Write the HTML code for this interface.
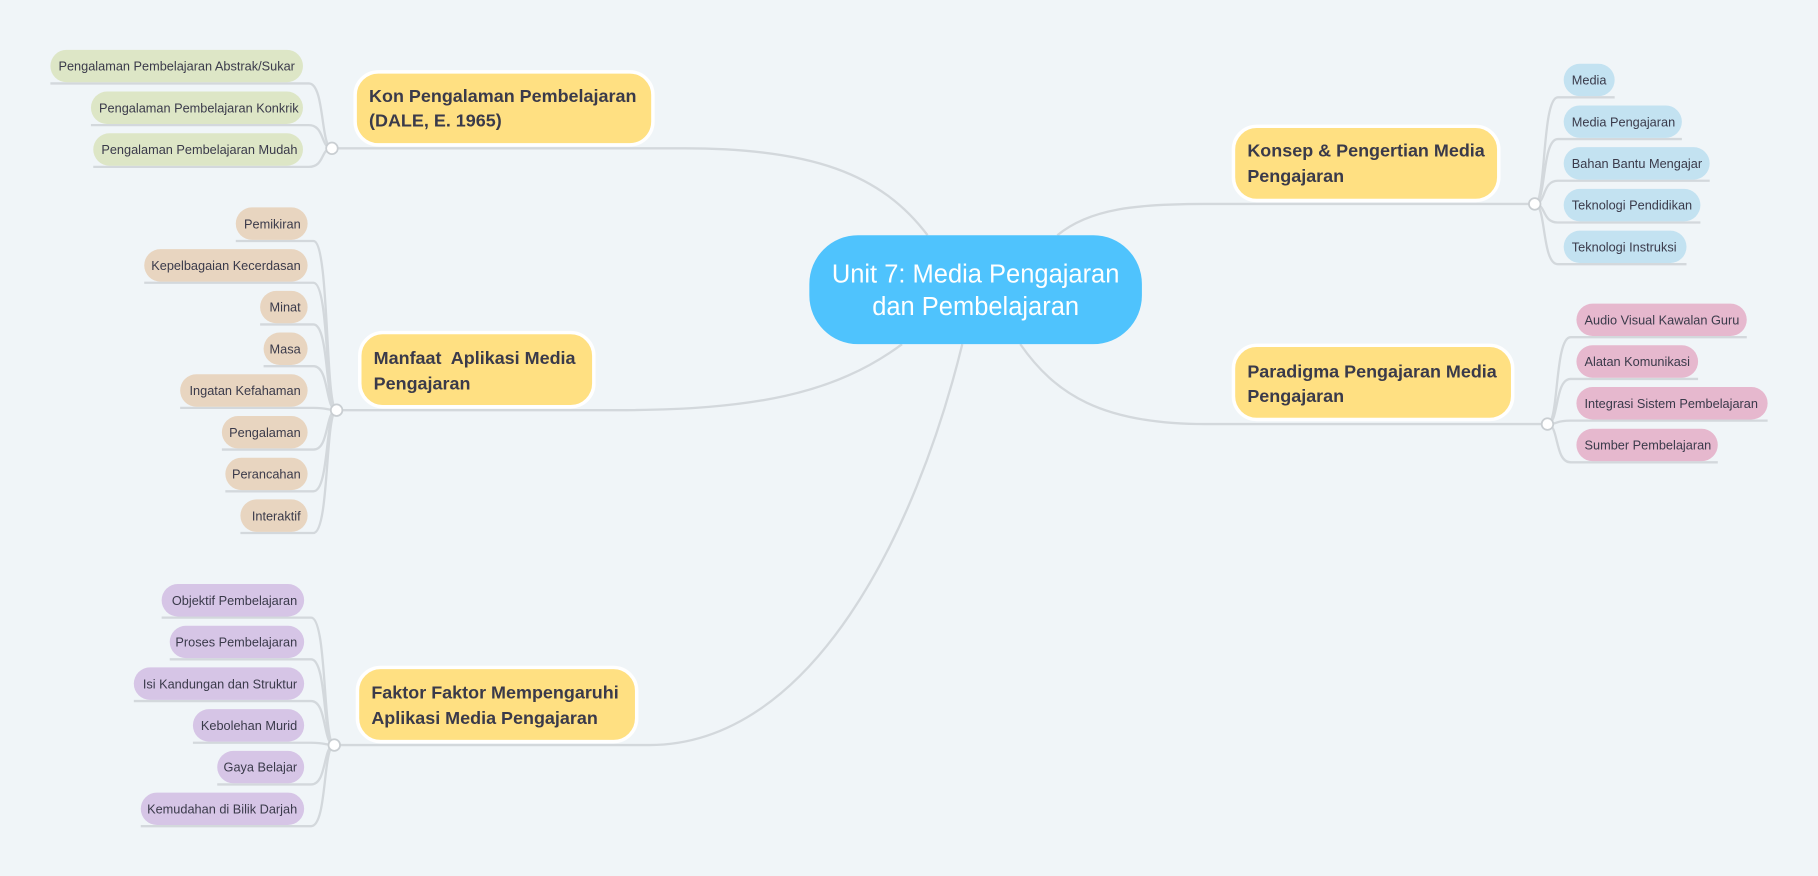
<!DOCTYPE html>
<html><head><meta charset="utf-8"><style>
html,body{margin:0;padding:0;background:#F0F5F8;}
svg{display:block;font-family:"Liberation Sans",sans-serif;}
.l{font-size:11px;fill:#3a3a4a;}
.m{font-size:15.5px;font-weight:bold;fill:#3a3a4a;}
.c{fill:none;stroke:#d3d8dc;stroke-width:2;}
.j{fill:#fff;stroke:#c9ced2;stroke-width:1.5;}
</style></head><body>
<svg width="1818" height="876" viewBox="0 0 1568 756" xmlns="http://www.w3.org/2000/svg">
<rect width="1568" height="756" fill="#F0F5F8"/>
<path class="c" d="M286 128 L590 128 C700 128 760 150 800 203"/>
<path class="c" d="M290 354 L530 354 C650 354 720 340 778 297"/>
<path class="c" d="M288 643 L560 643 C700 643 790 460 830 297"/>
<path class="c" d="M1324 176 L1040 176 C980 176 940 180 912 203"/>
<path class="c" d="M1335 366 L1040 366 C950 366 910 340 880 297"/>
<g class="c">
<path d="M286 128 C276 128 280 72 266 72 L43 72"/>
<path d="M286 128 C276 128 280 108 266 108 L78 108"/>
<path d="M286 128 C276 128 280 144 266 144 L80 144"/>

<path d="M290 354 C280 354 284 208 270 208 L203 208"/>
<path d="M290 354 C280 354 284 244 270 244 L124 244"/>
<path d="M290 354 C280 354 284 280 270 280 L224 280"/>
<path d="M290 354 C280 354 284 316 270 316 L227 316"/>
<path d="M290 354 C280 354 284 352 270 352 L155 352"/>
<path d="M290 354 C280 354 284 388 270 388 L191 388"/>
<path d="M290 354 C280 354 284 424 270 424 L194 424"/>
<path d="M290 354 C280 354 284 460 270 460 L207 460"/>

<path d="M288 643 C278 643 282 533 268 533 L139 533"/>
<path d="M288 643 C278 643 282 569 268 569 L146 569"/>
<path d="M288 643 C278 643 282 605 268 605 L115 605"/>
<path d="M288 643 C278 643 282 641 268 641 L166 641"/>
<path d="M288 643 C278 643 282 677 268 677 L187 677"/>
<path d="M288 643 C278 643 282 713 268 713 L121 713"/>

<path d="M1324 176 C1334 176 1330 84 1344 84 L1393 84"/>
<path d="M1324 176 C1334 176 1330 120 1344 120 L1451 120"/>
<path d="M1324 176 C1334 176 1330 156 1344 156 L1475 156"/>
<path d="M1324 176 C1334 176 1330 192 1344 192 L1467 192"/>
<path d="M1324 176 C1334 176 1330 228 1344 228 L1455 228"/>

<path d="M1335 366 C1345 366 1341 291 1355 291 L1507 291"/>
<path d="M1335 366 C1345 366 1341 327 1355 327 L1465 327"/>
<path d="M1335 366 C1345 366 1341 363 1355 363 L1525 363"/>
<path d="M1335 366 C1345 366 1341 399 1355 399 L1482 399"/>
</g>
<circle class="j" cx="286" cy="128" r="5"/>
<circle class="j" cx="290" cy="354" r="5"/>
<circle class="j" cx="288" cy="643" r="5"/>
<circle class="j" cx="1324" cy="176" r="5"/>
<circle class="j" cx="1335" cy="366" r="5"/>

<rect x="698" y="203" width="287" height="94" rx="42" fill="#4FC3FD"/>
<text x="841.5" y="244" text-anchor="middle" font-size="22" fill="#fff">Unit 7: Media Pengajaran</text>
<text x="841.5" y="272" text-anchor="middle" font-size="22" fill="#fff">dan Pembelajaran</text>

<g fill="#FFE082" stroke="#fff" stroke-width="3">
<rect x="306" y="62" width="257" height="63" rx="20"/>
<rect x="310" y="287" width="202" height="64" rx="20"/>
<rect x="308" y="576" width="241" height="64" rx="20"/>
<rect x="1064" y="109" width="229" height="64" rx="20"/>
<rect x="1064" y="298" width="241" height="64" rx="20"/>
</g>
<text class="m" x="318" y="88">Kon Pengalaman Pembelajaran</text>
<text class="m" x="318" y="109">(DALE, E. 1965)</text>
<text class="m" x="322" y="314" xml:space="preserve">Manfaat  Aplikasi Media</text>
<text class="m" x="322" y="336">Pengajaran</text>
<text class="m" x="320" y="603">Faktor Faktor Mempengaruhi</text>
<text class="m" x="320" y="625">Aplikasi Media Pengajaran</text>
<text class="m" x="1076" y="135">Konsep &amp; Pengertian Media</text>
<text class="m" x="1076" y="157">Pengajaran</text>
<text class="m" x="1076" y="326">Paradigma Pengajaran Media</text>
<text class="m" x="1076" y="347">Pengajaran</text>

<g fill="#DDE6C6">
<rect x="43" y="43" width="218" height="28" rx="14"/>
<rect x="78" y="79" width="183" height="28" rx="14"/>
<rect x="80" y="115" width="181" height="28" rx="14"/>
</g>
<text class="l" x="50" y="61">Pengalaman Pembelajaran Abstrak/Sukar</text>
<text class="l" x="85" y="97">Pengalaman Pembelajaran Konkrik</text>
<text class="l" x="87" y="133">Pengalaman Pembelajaran Mudah</text>

<g fill="#E8D5C0">
<rect x="203" y="179" width="62" height="28" rx="14"/>
<rect x="124" y="215" width="141" height="28" rx="14"/>
<rect x="224" y="251" width="41" height="28" rx="14"/>
<rect x="227" y="287" width="38" height="28" rx="14"/>
<rect x="155" y="323" width="110" height="28" rx="14"/>
<rect x="191" y="359" width="74" height="28" rx="14"/>
<rect x="194" y="395" width="71" height="28" rx="14"/>
<rect x="207" y="431" width="58" height="28" rx="14"/>
</g>
<g class="l" text-anchor="end">
<text x="259" y="197">Pemikiran</text>
<text x="259" y="233">Kepelbagaian Kecerdasan</text>
<text x="259" y="269">Minat</text>
<text x="259" y="305">Masa</text>
<text x="259" y="341">Ingatan Kefahaman</text>
<text x="259" y="377">Pengalaman</text>
<text x="259" y="413">Perancahan</text>
<text x="259" y="449">Interaktif</text>
</g>

<g fill="#D6C5E6">
<rect x="139" y="504" width="123" height="28" rx="14"/>
<rect x="146" y="540" width="116" height="28" rx="14"/>
<rect x="115" y="576" width="147" height="28" rx="14"/>
<rect x="166" y="612" width="96" height="28" rx="14"/>
<rect x="187" y="648" width="75" height="28" rx="14"/>
<rect x="121" y="684" width="141" height="28" rx="14"/>
</g>
<g class="l" text-anchor="end">
<text x="256" y="522">Objektif Pembelajaran</text>
<text x="256" y="558">Proses Pembelajaran</text>
<text x="256" y="594">Isi Kandungan dan Struktur</text>
<text x="256" y="630">Kebolehan Murid</text>
<text x="256" y="666">Gaya Belajar</text>
<text x="256" y="702">Kemudahan di Bilik Darjah</text>
</g>

<g fill="#C3E2F1">
<rect x="1349" y="55" width="44" height="28" rx="14"/>
<rect x="1349" y="91" width="102" height="28" rx="14"/>
<rect x="1349" y="127" width="126" height="28" rx="14"/>
<rect x="1349" y="163" width="118" height="28" rx="14"/>
<rect x="1349" y="199" width="106" height="28" rx="14"/>
</g>
<g class="l">
<text x="1356" y="73">Media</text>
<text x="1356" y="109">Media Pengajaran</text>
<text x="1356" y="145">Bahan Bantu Mengajar</text>
<text x="1356" y="181">Teknologi Pendidikan</text>
<text x="1356" y="217">Teknologi Instruksi</text>
</g>

<g fill="#E6B8CE">
<rect x="1360" y="262" width="147" height="28" rx="14"/>
<rect x="1360" y="298" width="105" height="28" rx="14"/>
<rect x="1360" y="334" width="165" height="28" rx="14"/>
<rect x="1360" y="370" width="122" height="28" rx="14"/>
</g>
<g class="l">
<text x="1367" y="280">Audio Visual Kawalan Guru</text>
<text x="1367" y="316">Alatan Komunikasi</text>
<text x="1367" y="352">Integrasi Sistem Pembelajaran</text>
<text x="1367" y="388">Sumber Pembelajaran</text>
</g>
</svg>
</body></html>
